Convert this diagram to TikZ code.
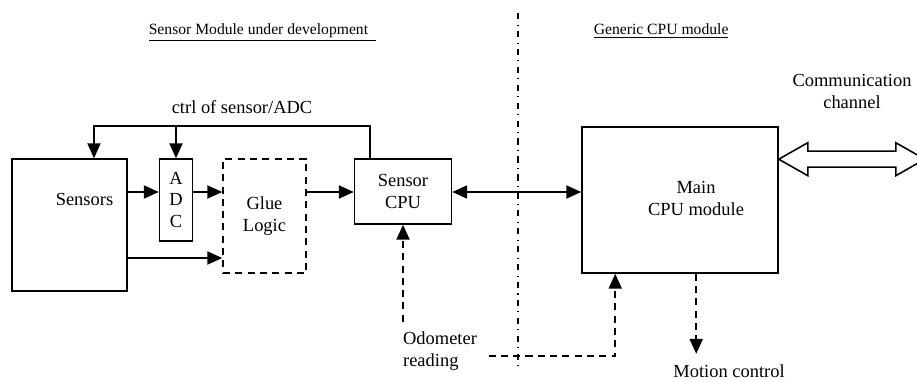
\documentclass[tikz,border=0pt]{standalone}
\usepackage{fontspec}
\setmainfont{Liberation Serif}
\usetikzlibrary{calc,arrows.meta}

\begin{document}
\begin{tikzpicture}[>={Triangle[length=8.5pt,width=7.5pt]},line width=0.9pt,
    font=\fontsize{10.5}{12.5}\selectfont,
    box/.style={rectangle,draw,line width=0.9pt,align=center},
    header/.style={font=\fontsize{8.9}{11}\selectfont,inner sep=0pt,anchor=base west},
    dashline/.style={dash pattern=on 4pt off 3pt}]
    \useasboundingbox (0,0) rectangle (18.34,7.62);
    \node (sensmod) at (2.96,6.92) [header]{\underline{Sensor Module under development\ \ }};
    \node (generic) at (11.86,6.92) [header]{\underline{Generic CPU module}};
    \draw[line width=0.8pt,dash pattern=on 3.6pt off 3pt on 0.6pt off 3pt] (10.36,7.36) -- (10.36,0.2);
    \node (sensors) at (1.39,3.12) [box,minimum width=2.3cm,minimum height=2.64cm]{};
    \node (sensorstxt) at (1.69,3.64) {Sensors};
    \node (adc) at (3.52,3.62) [box,minimum width=0.66cm,minimum height=1.64cm,inner sep=0pt]{A\\D\\C};
    \node (glue) at (5.29,3.30) [box,dashline,minimum width=1.66cm,minimum height=2.28cm]{Glue\\Logic};
    \node (scpu) at (8.06,3.79) [box,minimum width=1.94cm,minimum height=1.3cm]{Sensor\\CPU};
    \node (main) at (13.6,3.62) [box,minimum width=3.92cm,minimum height=2.92cm]{};
    \node (maintxt) at (13.92,3.66) [align=center]{Main\\CPU module};
    \coordinate (bus) at ($(scpu.north west)+(0.32,0.64)$);
    \draw[->] ($(scpu.north west)+(0.32,0)$) -- (bus) -| ($(sensors.north)+(0.49,0)$);
    \draw[->] (bus -| adc.north) -- (adc.north);
    \node (ctrllbl) at (4.84,5.48) {ctrl of sensor/ADC};
    \coordinate (s1) at ($(sensors.east)+(0,0.66)$);
    \coordinate (s2) at ($(sensors.east)+(0,-0.66)$);
    \draw[->] (s1) -- (adc.west |- s1);
    \draw[->] (adc.east |- s1) -- (glue.west |- s1);
    \draw[->] (glue.east |- s1) -- (scpu.west |- s1);
    \draw[<->] (scpu.east |- s1) -- (main.west |- s1);
    \draw[->] (s2) -- (glue.west |- s2);
    \node (odo) at (7.93,0.6) [anchor=west,align=left]{Odometer\\reading};
    \draw[->,dashline] ($(scpu.south)+(0,-1.94)$) -- (scpu.south);
    \draw[->,dashline] ($(odo.east)+(0.1,-0.1)$) -| ($(main.south west)+(0.68,0)$);
    \coordinate (motion) at ($(main.south west)+(2.3,-1.6)$);
    \draw[->,dashline] ($(main.south west)+(2.3,0)$) -- (motion);
    \node (motionlbl) at (14.58,0.2) {Motion control};
    \coordinate (comm) at ($(main.north east)+(0,-0.66)$);
    \draw (comm) -- ++(0.58,0.33) -- ++(0,-0.17) -- ++(1.76,0) -- ++(0,0.17) -- ++(0.58,-0.33)
      -- ++(-0.58,-0.33) -- ++(0,0.17) -- ++(-1.76,0) -- ++(0,-0.17) -- cycle;
    \node (commlbl) at (17.04,5.79) [align=center]{Communication\\channel};
\end{tikzpicture}
\end{document}
